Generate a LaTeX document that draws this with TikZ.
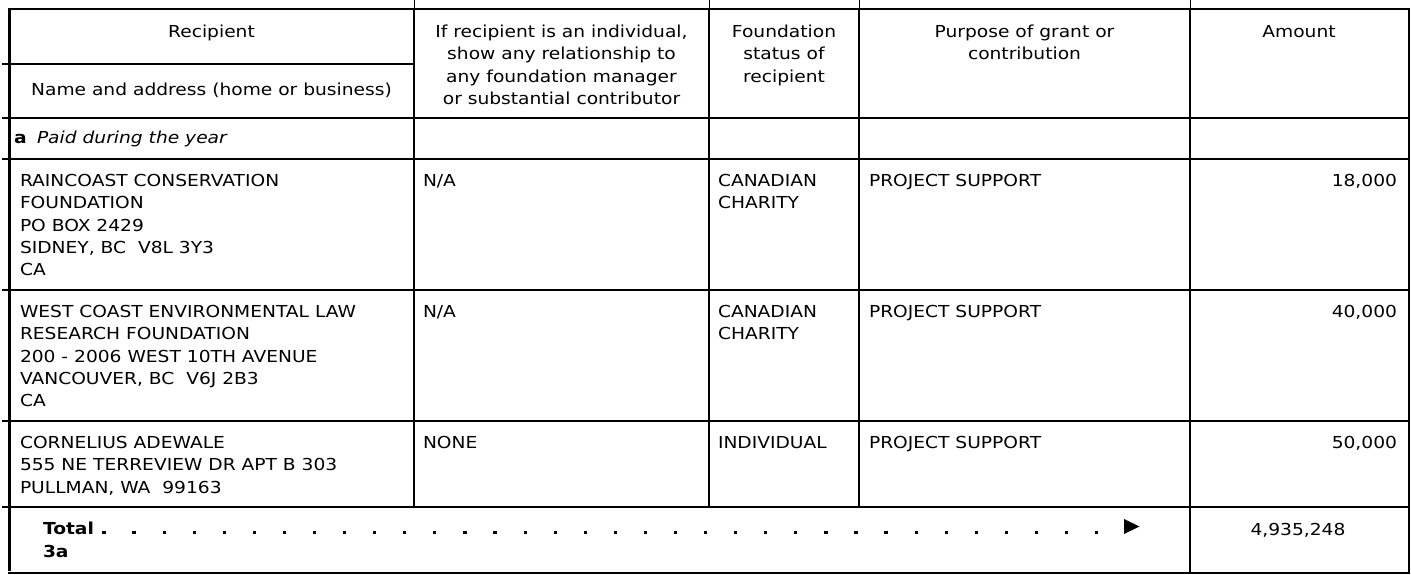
\documentclass[tikz,border=0pt]{standalone}
\usepackage{fontspec}
\setmainfont{DejaVu Sans}[FakeStretch=1.13,
  BoldFont={DejaVu Sans Bold},
  ItalicFont={DejaVu Sans Oblique},
  BoldItalicFont={DejaVu Sans Bold Oblique}]
\begin{document}
\begin{tikzpicture}[x=1pt,y=-1pt]
\tikzset{
  rule/.style={line width=1.8pt, line cap=rect},
  thickrule/.style={line width=3pt},
  tick/.style={line width=0.9pt},
  txt/.style={inner sep=0pt, outer sep=0pt, font=\fontsize{16.5}{22.3}\selectfont},
  body/.style={txt, anchor=base west},
  num/.style={txt, anchor=base east},
  head/.style={txt, anchor=base},
}
\useasboundingbox (0,0) rectangle (1411,575);

% ---- grid ----
% ticks above the top rule
\foreach \xx in {414,709,859,1190}
  \draw[tick] (\xx,0) -- (\xx,9);
% horizontal rules
\draw[rule, line width=2.4pt] (9,9) -- (1409,9);
\draw[rule] (3,64) -- (414,64);
\foreach \yy in {118,159,290,421,507}
  \draw[rule] (3,\yy) -- (1409,\yy);
\draw[rule] (9,573) -- (1409,573);
% vertical rules
\foreach \xx in {414,709,859}
  \draw[rule] (\xx,9) -- (\xx,507);
\draw[rule] (1190,9) -- (1190,573);
\draw[rule] (1409,9) -- (1409,573);
\draw[thickrule] (9,9) -- (9,571);

% ---- header ----
\node[head] (h1a) at (211.5,37.5) {Recipient};
\node[head] (h1b) at (211.5,96) {Name and address (home or business)};
\foreach \t [count=\i] in {{If recipient is an individual,}, {show any relationship to}, {any foundation manager}, {or substantial contributor}}
  \node[head] (h2\i) at (561.5,{37.5+(\i-1)*22.5}) {\t};
\foreach \t [count=\i] in {Foundation, status of, recipient}
  \node[head] (h3\i) at (784,{37.5+(\i-1)*22.5}) {\t};
\foreach \t [count=\i] in {Purpose of grant or, contribution}
  \node[head] (h4\i) at (1024.5,{37.5+(\i-1)*22.5}) {\t};
\node[head] (h5) at (1299,37.5) {Amount};

% ---- section a ----
\node[body] (alab) at (14,144) {\textbf{a}};
\node[body] (apaid) at (37,144) {\textit{Paid during the year}};

% ---- row 1 ----
\foreach \t [count=\i] in {RAINCOAST CONSERVATION, FOUNDATION, PO BOX 2429, {SIDNEY, BC\ \ V8L 3Y3}, CA}
  \node[body] (ra\i) at (20,{186.5+(\i-1)*22.3}) {\t};
\node[body] (rarel) at (423,186.5) {N/A};
\node[body] (rast1) at (718,186.5) {CANADIAN};
\node[body] (rast2) at (718,208.8) {CHARITY};
\node[body] (rapur) at (869,186.5) {PROJECT SUPPORT};
\node[num] (raamt) at (1397,186.5) {18,000};

% ---- row 2 ----
\foreach \t [count=\i] in {WEST COAST ENVIRONMENTAL LAW, RESEARCH FOUNDATION, 200 - 2006 WEST 10TH AVENUE, {VANCOUVER, BC\ \ V6J 2B3}, CA}
  \node[body] (wc\i) at (20,{317.5+(\i-1)*22.3}) {\t};
\node[body] (wcrel) at (423,317.5) {N/A};
\node[body] (wcst1) at (718,317.5) {CANADIAN};
\node[body] (wcst2) at (718,339.8) {CHARITY};
\node[body] (wcpur) at (869,317.5) {PROJECT SUPPORT};
\node[num] (wcamt) at (1397,317.5) {40,000};

% ---- row 3 ----
\foreach \t [count=\i] in {CORNELIUS ADEWALE, 555 NE TERREVIEW DR APT B 303, {PULLMAN, WA\ \ 99163}}
  \node[body] (ca\i) at (20,{448.5+(\i-1)*22.3}) {\t};
\node[body] (carel) at (423,448.5) {NONE};
\node[body] (cast) at (718,448.5) {INDIVIDUAL};
\node[body] (capur) at (869,448.5) {PROJECT SUPPORT};
\node[num] (caamt) at (1397,448.5) {50,000};

% ---- total ----
\node[body] (tot) at (43,534.5) {\textbf{Total}};
\node[body] (tot3a) at (43,557.5) {\textbf{3a}};
\foreach \k in {0,...,33}
  \fill ({104+30.08*\k-1.6},531) rectangle +(3.2,3.2);
\fill (1124,519) -- (1139.5,526.5) -- (1124,534) -- cycle;
\node[head] (totamt) at (1298,535) {4,935,248};
\end{tikzpicture}
\end{document}
